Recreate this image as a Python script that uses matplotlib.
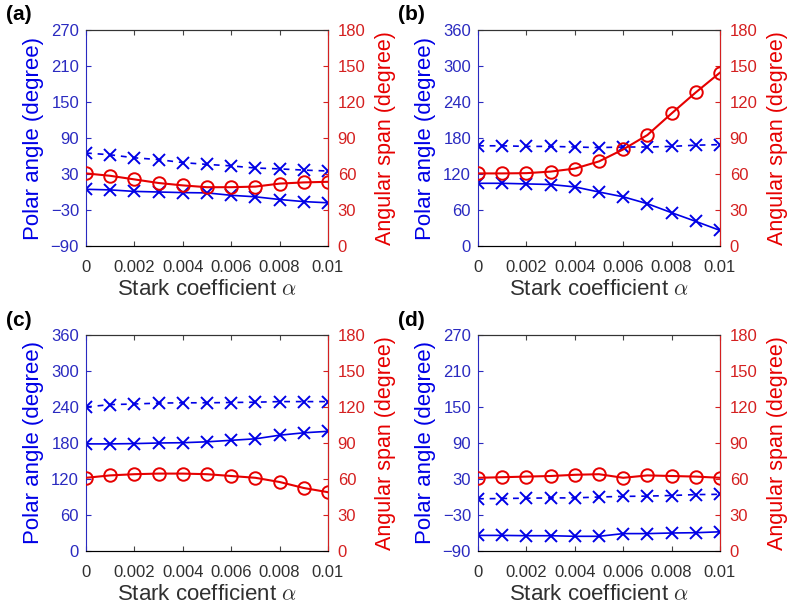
import matplotlib
matplotlib.use("Agg")
import matplotlib.pyplot as plt

plt.rcParams['font.family'] = ['Liberation Sans', 'DejaVu Sans']
plt.rcParams['mathtext.fontset'] = 'cm'

alpha = [0, 0.001, 0.002, 0.003, 0.004, 0.005, 0.006, 0.007, 0.008, 0.009, 0.01]

# polar angle, dashed branch (left axis)
polar_dash_a = [65, 62, 57, 54, 49, 46, 43.5, 40, 38.5, 36.5, 35]
polar_dash_b = [167, 167, 166, 166, 165, 164, 165, 165, 166, 168, 169]
polar_dash_c = [240, 244, 245, 246.5, 247, 247, 247.5, 248, 249, 249, 249]
polar_dash_d = [-3, -2.5, -2, -1.5, -1.5, 0, 1, 1.5, 2.5, 4, 4.5]

# polar angle, solid branch (left axis)
polar_solid_a = [4.5, 3.5, 1, 0, -1, -1.5, -5.5, -8, -12.5, -16, -18]
polar_solid_b = [104.5, 104.5, 103.5, 102.5, 98.5, 90, 82, 70.5, 55.5, 41, 26]
polar_solid_c = [178.5, 178.5, 179, 180, 180.5, 182, 184.5, 187, 193, 197, 199.5]
polar_solid_d = [-64, -64, -64.5, -64.5, -65.5, -65.5, -61, -61, -60, -59.5, -58]

# angular span (right axis)
span_a = [60.5, 58.5, 55.5, 52.5, 50.5, 49, 49, 49.5, 52, 53, 53.5]
span_b = [60.5, 60.5, 60.7, 62, 64.5, 70.5, 80.5, 92.5, 110.5, 128, 144.5]
span_c = [61, 63, 64, 64.5, 64.5, 64, 62.5, 61, 57.5, 52.5, 49]
span_d = [61, 61.5, 62, 62.5, 63.5, 64, 61, 63, 62.5, 62, 61]

panels = [
    ('(a)', polar_dash_a, polar_solid_a, span_a, (-90, 270), [-90, -30, 30, 90, 150, 210, 270]),
    ('(b)', polar_dash_b, polar_solid_b, span_b, (0, 360), [0, 60, 120, 180, 240, 300, 360]),
    ('(c)', polar_dash_c, polar_solid_c, span_c, (0, 360), [0, 60, 120, 180, 240, 300, 360]),
    ('(d)', polar_dash_d, polar_solid_d, span_d, (-90, 270), [-90, -30, 30, 90, 150, 210, 270]),
]

W, H = 789, 610
fig = plt.figure(figsize=(W / 100, H / 100), dpi=100)

blue = '#0000e6'
blue_txt = '#2a2ac0'
red = '#e60000'
red_txt = '#d42020'
grey_txt = '#303030'

# axes boxes in pixels: left, top
boxes = [(86, 30), (478, 30), (86, 335), (478, 335)]
label_pos = [(6, 15), (398, 15), (6, 320), (398, 320)]
aw, ah = 242, 216

for i, (tag, dash, solid, span, ylim, yticks) in enumerate(panels):
    l, t = boxes[i]
    ax = fig.add_axes([l / W, 1 - (t + ah) / H, aw / W, ah / H])
    ax.plot(alpha, dash, color=blue, linestyle=(0, (3.5, 3.5)), linewidth=1.2,
            marker='x', markersize=8.5, markeredgewidth=1.4)
    ax.plot(alpha, solid, color=blue, linestyle='-', linewidth=1.2,
            marker='x', markersize=8.5, markeredgewidth=1.4)
    ax.set_xlim(0, 0.01)
    ax.set_ylim(*ylim)
    ax.set_yticks(yticks)
    ax.set_xticks([0, 0.002, 0.004, 0.006, 0.008, 0.01])
    ax.set_xticklabels(['0', '0.002', '0.004', '0.006', '0.008', '0.01'])
    ax.tick_params(axis='x', direction='in', top=True, length=3.5, width=0.8,
                   color='#444444', labelcolor=grey_txt, labelsize=12, pad=10)
    ax.tick_params(axis='y', direction='in', length=3.5, width=0.8,
                   colors=blue_txt, labelsize=12, pad=5)
    ax.set_xlabel(r'Stark coefficient $\alpha$', fontsize=16, color=grey_txt,
                  labelpad=3)
    ax.set_ylabel('Polar angle (degree)', fontsize=16, color=blue, labelpad=5)
    ax.spines['left'].set_color(blue_txt)
    ax.spines['top'].set_color('#333333')
    ax.spines['bottom'].set_color('#333333')

    ax2 = ax.twinx()
    ax2.plot(alpha, span, color=red, linewidth=1.5, marker='o', markersize=9,
             markerfacecolor='none', markeredgewidth=1.4)
    ax2.set_ylim(0, 180)
    ax2.set_yticks([0, 30, 60, 90, 120, 150, 180])
    ax2.tick_params(axis='y', direction='in', length=3.5, width=0.8,
                    colors=red_txt, labelsize=12, pad=7)
    ax2.set_ylabel('Angular span (degree)', fontsize=15.5, color=red, labelpad=7)
    ax2.spines['right'].set_color(red_txt)
    ax2.spines['left'].set_visible(False)
    ax2.spines['top'].set_color('#333333')

    fig.text(label_pos[i][0] / W, 1 - label_pos[i][1] / H, tag, fontsize=15,
             fontweight='bold', va='center', ha='left')

fig.savefig('out.png', dpi=100)
